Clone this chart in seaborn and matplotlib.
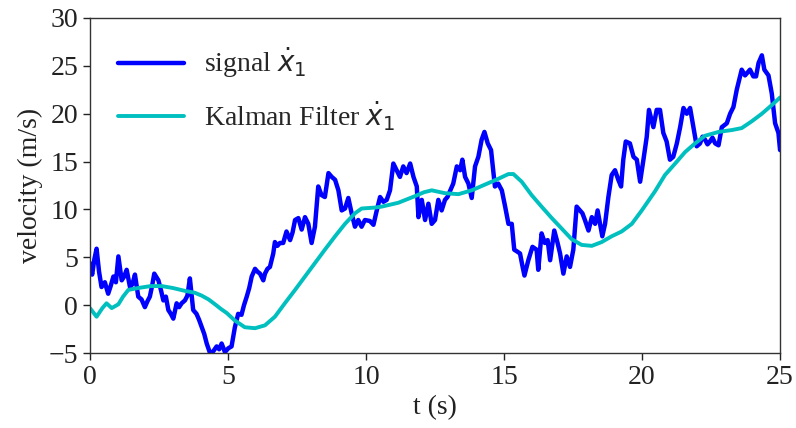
import matplotlib
matplotlib.use("Agg")
import matplotlib.pyplot as plt
import seaborn as sns
import pandas as pd

# Measured velocity signal
signal_t = [0.00, 0.08, 0.16, 0.24, 0.33, 0.42, 0.54, 0.66, 0.75, 0.85, 0.94, 1.03, 1.15, 1.24,
            1.33, 1.45, 1.54, 1.63, 1.75, 1.87, 1.99, 2.08, 2.17, 2.25, 2.33, 2.48, 2.57, 2.66,
            2.75, 2.84, 2.93, 3.02, 3.14, 3.23, 3.32, 3.44, 3.53, 3.62, 3.74, 3.86, 3.95, 4.05,
            4.14, 4.23, 4.35, 4.47, 4.59, 4.68, 4.77, 4.89, 5.01, 5.13, 5.25, 5.37, 5.49, 5.58,
            5.68, 5.77, 5.86, 5.98, 6.07, 6.16, 6.28, 6.34, 6.43, 6.52, 6.64, 6.70, 6.79, 6.88,
            7.00, 7.12, 7.25, 7.34, 7.43, 7.55, 7.67, 7.79, 7.91, 8.03, 8.15, 8.27, 8.39, 8.51,
            8.64, 8.76, 8.88, 9.00, 9.12, 9.24, 9.36, 9.48, 9.60, 9.72, 9.84, 9.96, 10.14, 10.27,
            10.39, 10.51, 10.63, 10.75, 10.87, 10.99, 11.11, 11.23, 11.35, 11.47, 11.60, 11.72,
            11.84, 11.90, 12.02, 12.14, 12.26, 12.38, 12.50, 12.62, 12.74, 12.86, 12.95, 13.04,
            13.16, 13.29, 13.41, 13.49, 13.59, 13.71, 13.83, 13.95, 14.07, 14.19, 14.29, 14.41,
            14.53, 14.67, 14.79, 14.92, 15.04, 15.16, 15.28, 15.37, 15.48, 15.58, 15.66, 15.74,
            15.88, 16.03, 16.18, 16.24, 16.36, 16.48, 16.58, 16.67, 16.82, 16.94, 17.03, 17.15,
            17.27, 17.39, 17.51, 17.63, 17.75, 17.84, 17.93, 18.06, 18.18, 18.30, 18.39, 18.48,
            18.56, 18.66, 18.78, 18.90, 19.02, 19.14, 19.24, 19.32, 19.41, 19.56, 19.69, 19.81,
            19.93, 20.05, 20.17, 20.25, 20.41, 20.53, 20.65, 20.77, 20.89, 21.01, 21.13, 21.26,
            21.38, 21.50, 21.62, 21.74, 21.86, 21.98, 22.10, 22.19, 22.28, 22.37, 22.46, 22.55,
            22.65, 22.77, 22.89, 23.07, 23.19, 23.31, 23.43, 23.55, 23.61, 23.73, 23.82, 23.91,
            24.03, 24.13, 24.22, 24.34, 24.43, 24.58, 24.70, 24.82, 24.94, 25.00]
signal_v = [4.4, 3.2, 4.8, 5.9, 3.5, 1.9, 2.4, 1.2, 2.0, 3.0, 2.4, 5.1, 2.6, 3.0,
            3.7, 1.9, 2.2, 3.2, 0.9, 0.6, -0.2, 0.4, 0.9, 2.0, 3.3, 2.6, 1.6, 0.5,
            0.9, -0.5, -0.9, -1.4, 0.2, -0.2, 0.2, 0.5, 1.0, 2.8, -0.5, -0.9, -1.5, -2.3,
            -3.0, -4.0, -5.0, -4.8, -4.3, -4.6, -4.0, -4.9, -4.5, -4.3, -2.3, -0.9, -1.0, 0.0,
            0.9, 1.8, 3.0, 3.8, 3.5, 3.3, 2.6, 3.3, 3.8, 4.0, 5.4, 6.6, 6.2, 6.5,
            6.5, 7.7, 6.8, 7.6, 8.9, 9.1, 7.9, 9.2, 8.5, 6.5, 8.2, 12.4, 11.5, 11.3,
            13.8, 13.4, 13.1, 12.0, 9.9, 10.1, 11.2, 9.6, 8.2, 8.9, 8.2, 8.9, 8.8, 8.4,
            9.9, 11.3, 10.8, 11.0, 12.0, 14.8, 14.1, 13.4, 14.5, 13.8, 14.8, 13.4,
            12.4, 9.2, 11.0, 8.9, 10.6, 8.5, 8.9, 11.0, 9.9, 11.0, 11.3, 11.9,
            12.7, 14.5, 14.1, 15.2, 13.4, 12.7, 11.2, 14.5, 15.5, 17.3, 18.1, 16.9,
            16.2, 12.4, 12.7, 12.0, 10.3, 8.5, 8.5, 5.8, 5.6, 5.4, 4.2, 3.1,
            4.7, 6.1, 5.8, 3.7, 7.5, 6.5, 6.8, 4.7, 7.8, 6.5, 5.4, 3.3,
            5.1, 4.0, 5.8, 10.3, 9.9, 9.6, 8.9, 7.8, 9.2, 8.5, 9.9, 8.5,
            7.2, 8.5, 11.3, 13.6, 14.1, 13.1, 12.4, 15.2, 17.1, 16.9, 15.5, 15.2,
            12.9, 15.2, 17.6, 20.4, 18.6, 20.4, 20.4, 18.0, 17.1, 15.2, 15.5, 16.9,
            18.6, 20.6, 20.0, 20.6, 18.6, 16.6, 16.9, 17.6, 17.3, 16.8, 17.1, 17.5,
            16.9, 16.7, 18.6, 19.0, 20.0, 20.7, 22.5, 23.9, 24.6, 24.0, 24.3, 24.6,
            23.9, 23.9, 25.3, 26.1, 24.6, 24.0, 22.1, 19.0, 18.0, 16.2]

# Kalman filter estimate
kalman_t = [0.0, 0.24, 0.45, 0.6, 0.79, 1.03, 1.2, 1.39, 1.75, 2.2, 2.6, 3.0, 3.44, 3.8,
            4.05, 4.3, 4.53, 4.75, 4.95, 5.25, 5.61, 5.98, 6.34, 6.7, 7.06, 7.43, 7.79,
            8.15, 8.51, 8.88, 9.24, 9.6, 9.84, 10.33, 10.57, 11.17, 11.78, 12.1, 12.38,
            12.86, 13.35, 13.83, 14.31, 14.79, 15.16, 15.34, 15.64, 16.0, 16.36, 16.73,
            17.09, 17.45, 17.81, 18.18, 18.54, 18.9, 19.26, 19.63, 19.99, 20.47, 20.83,
            21.2, 21.56, 21.92, 22.28, 22.77, 23.26, 23.61, 23.97, 24.34, 24.7, 25.0]
kalman_v = [-0.3, -1.2, -0.3, 0.2, -0.3, 0.1, 0.9, 1.6, 1.8, 2.0, 2.0, 1.8, 1.5, 1.3,
            1.0, 0.6, 0.1, -0.4, -0.8, -1.6, -2.3, -2.4, -2.1, -1.2, 0.2, 1.6, 3.0,
            4.4, 5.8, 7.2, 8.5, 9.6, 10.1, 10.2, 10.3, 10.7, 11.4, 11.8, 12.0,
            11.7, 11.6, 12.0, 12.6, 13.2, 13.7, 13.7, 12.9, 11.5, 10.3, 9.1,
            8.0, 6.9, 6.3, 6.2, 6.6, 7.2, 7.7, 8.5, 9.9, 11.9, 13.6,
            14.8, 16.0, 16.9, 17.7, 18.1, 18.3, 18.5, 19.2, 20.0, 20.9, 21.7]

labels = [r"signal $\dot{x}_1$", r"Kalman Filter $\dot{x}_1$"]
x_ticks = [0, 5, 10, 15, 20, 25]
y_ticks = [-5, 0, 5, 10, 15, 20, 25, 30]

sns.set_style("ticks")
plt.rcParams["font.family"] = ["Liberation Serif", "DejaVu Serif"]
plt.rcParams["mathtext.fontset"] = "dejavusans"

sig = pd.DataFrame({"t": signal_t, "v": signal_v})
kal = pd.DataFrame({"t": kalman_t, "v": kalman_v})

fig = plt.figure(figsize=(7.96, 4.28), dpi=100)
ax = fig.add_axes([0.113, 0.175, 0.867, 0.783])

sns.lineplot(data=sig, x="t", y="v", ax=ax, color="b", linewidth=3.2,
             sort=False, estimator=None, label=labels[0])
sns.lineplot(data=kal, x="t", y="v", ax=ax, color="c", linewidth=2.8,
             sort=False, estimator=None, label=labels[1])

ax.set_xlim(0, 25)
ax.set_ylim(-5, 30)
ax.set_xticks(x_ticks)
ax.set_yticks(y_ticks)
ax.tick_params(labelsize=20, length=5, width=1, colors="#222222", labelcolor="#222222")
ax.set_xlabel("t (s)", fontsize=20, color="#222222", labelpad=4)
ax.set_ylabel("velocity (m/s)", fontsize=20, color="#222222", labelpad=4)
for s in ax.spines.values():
    s.set_color("#333333")
    s.set_linewidth(1.0)

ax.legend(loc="upper left", frameon=False, fontsize=20, handlelength=2.4,
          handletextpad=0.7, labelspacing=0.7, borderaxespad=0.6)

fig.savefig("out.png", dpi=100)
